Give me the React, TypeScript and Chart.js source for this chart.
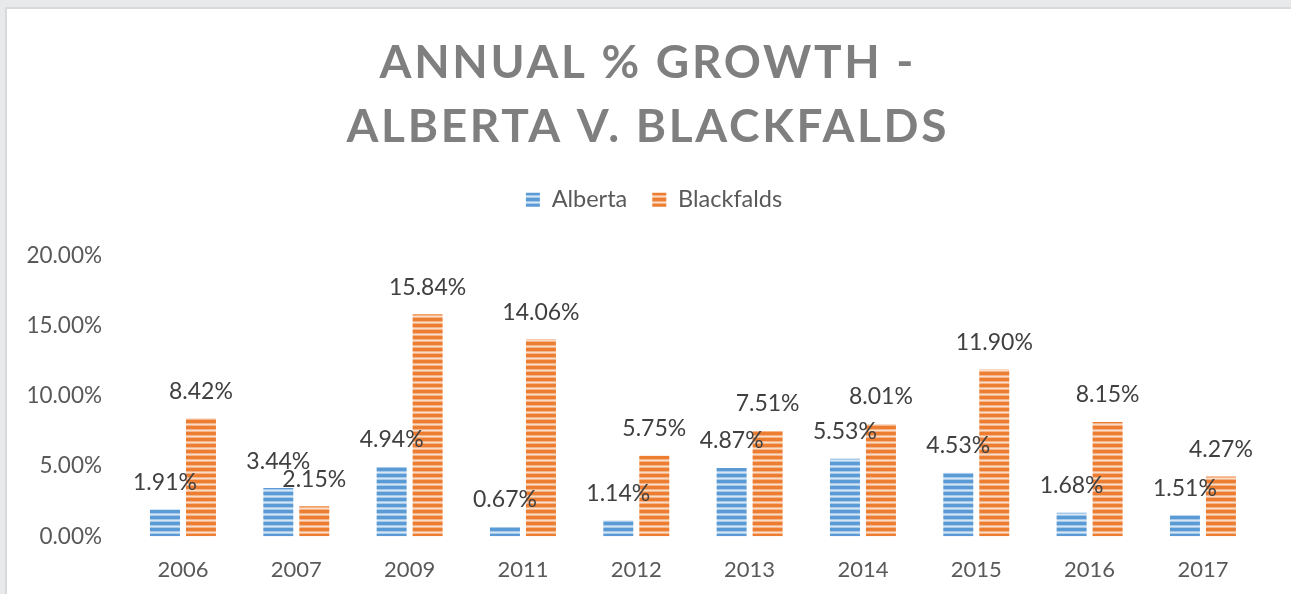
import React, { useEffect, useRef } from "react";
import { Chart, registerables } from "chart.js";

Chart.register(...registerables);

const categories = ["2006", "2007", "2009", "2011", "2012", "2013", "2014", "2015", "2016", "2017"];
const albertaValues = [1.91, 3.44, 4.94, 0.67, 1.14, 4.87, 5.53, 4.53, 1.68, 1.51];
const blackfaldsValues = [8.42, 2.15, 15.84, 14.06, 5.75, 7.51, 8.01, 11.9, 8.15, 4.27];
const seriesNames = ["Alberta", "Blackfalds"];
const titleLines = ["ANNUAL % GROWTH -", "ALBERTA V. BLACKFALDS"];
const yTicks = [0, 5, 10, 15, 20];

const W = 1291;
const H = 594;
const FONT = "Lato, 'Open Sans', sans-serif";

function makeStripes(solid: string, mid: string, light: string) {
  const c = document.createElement("canvas");
  c.width = 4;
  c.height = 6;
  const x = c.getContext("2d")!;
  const rows = [solid, solid, solid, mid, light, mid];
  rows.forEach((col, i) => {
    x.fillStyle = col;
    x.fillRect(0, i, 4, 1);
  });
  return x.createPattern(c, "repeat")!;
}

const titlePlugin = {
  id: "letterTitle",
  afterDraw(chart: any) {
    const ctx = chart.ctx;
    ctx.save();
    ctx.font = `bold 46px ${FONT}`;
    ctx.fillStyle = "#7f7f7f";
    const sp = 2.7;
    try {
      ctx.letterSpacing = `${sp}px`;
    } catch (e) {}
    ctx.textAlign = "center";
    ctx.textBaseline = "alphabetic";
    ctx.fillText(titleLines[0], 646.5 + sp / 2, 78);
    ctx.fillText(titleLines[1], 646.5 + sp / 2, 141.5);
    ctx.restore();
  },
};

const valueLabelPlugin = {
  id: "valueLabels",
  afterDatasetsDraw(chart: any) {
    const ctx = chart.ctx;
    ctx.save();
    ctx.font = `23px ${FONT}`;
    ctx.fillStyle = "#404040";
    ctx.textAlign = "center";
    ctx.textBaseline = "middle";
    chart.data.datasets.forEach((ds: any, di: number) => {
      const meta = chart.getDatasetMeta(di);
      meta.data.forEach((el: any, i: number) => {
        const v = ds.data[i] as number;
        ctx.fillText(v.toFixed(2) + "%", el.x, el.y - 27);
      });
    });
    ctx.restore();
  },
};

const legendSpacePlugin = {
  id: "legendSpace",
  beforeInit(chart: any) {
    const legend = chart.legend;
    if (!legend) return;
    const orig = legend.fit;
    legend.fit = function () {
      orig.call(this);
      this.height = 256 - 163;
    };
  },
  afterLayout(chart: any) {
    const legend = chart.legend;
    if (!legend) return;
    legend.left += 24.2;
    legend.right += 24.2;
  },
};

export default function App() {
  const ref = useRef<HTMLCanvasElement | null>(null);

  useEffect(() => {
    if (!ref.current) return;
    const blue = makeStripes("#5b9bd5", "#a7c9ea", "#d7e6f5");
    const orange = makeStripes("#ed7d31", "#f5b58a", "#fbdcc6");
    const chart = new Chart(ref.current, {
      type: "bar",
      data: {
        labels: categories,
        datasets: [
          {
            label: seriesNames[0],
            data: albertaValues,
            backgroundColor: blue as any,
            borderWidth: 0,
            categoryPercentage: 0.635,
            barPercentage: 0.833,
          },
          {
            label: seriesNames[1],
            data: blackfaldsValues,
            backgroundColor: orange as any,
            borderWidth: 0,
            categoryPercentage: 0.635,
            barPercentage: 0.833,
          },
        ],
      },
      options: {
        responsive: false,
        animation: false,
        devicePixelRatio: 1,
        layout: { padding: { top: 163, left: 0, right: 31.4, bottom: 0 } },
        plugins: {
          title: { display: false },
          tooltip: { enabled: false },
          legend: {
            display: true,
            position: "top",
            labels: {
              font: { family: FONT, size: 23.5 },
              color: "#595959",
              boxWidth: 14,
              boxHeight: 14,
              padding: 25,
            },
          },
        },
        scales: {
          x: {
            grid: { display: false, drawTicks: false },
            border: { display: false },
            ticks: {
              font: { family: FONT, size: 22 },
              color: "#595959",
              padding: 20,
            },
            afterFit: (s: any) => {
              s.height = H - 536.3;
            },
          },
          y: {
            min: 0,
            max: 20,
            afterBuildTicks: (s: any) => {
              s.ticks = yTicks.map((v) => ({ value: v }));
            },
            grid: { display: false, drawTicks: false },
            border: { display: false },
            ticks: {
              font: { family: FONT, size: 22.5 },
              color: "#595959",
              padding: 24.3,
              callback: (v: any) => Number(v).toFixed(2) + "%",
            },
            afterFit: (s: any) => {
              s.width = 126.3;
            },
          },
        },
      },
      plugins: [legendSpacePlugin, valueLabelPlugin, titlePlugin],
    });
    return () => chart.destroy();
  }, []);

  return (
    <div style={{ position: "fixed", left: 0, top: 0, width: W, height: H, background: "#e8e9eb", overflow: "hidden" }}>
      <div
        style={{
          position: "absolute",
          left: 5,
          top: 7,
          width: W + 20,
          height: H + 20,
          background: "#ffffff",
          border: "2px solid #d9d9d9",
          boxSizing: "border-box",
        }}
      />
      <canvas ref={ref} width={W} height={H} style={{ position: "absolute", left: 0, top: 0, width: W, height: H }} />
    </div>
  );
}
